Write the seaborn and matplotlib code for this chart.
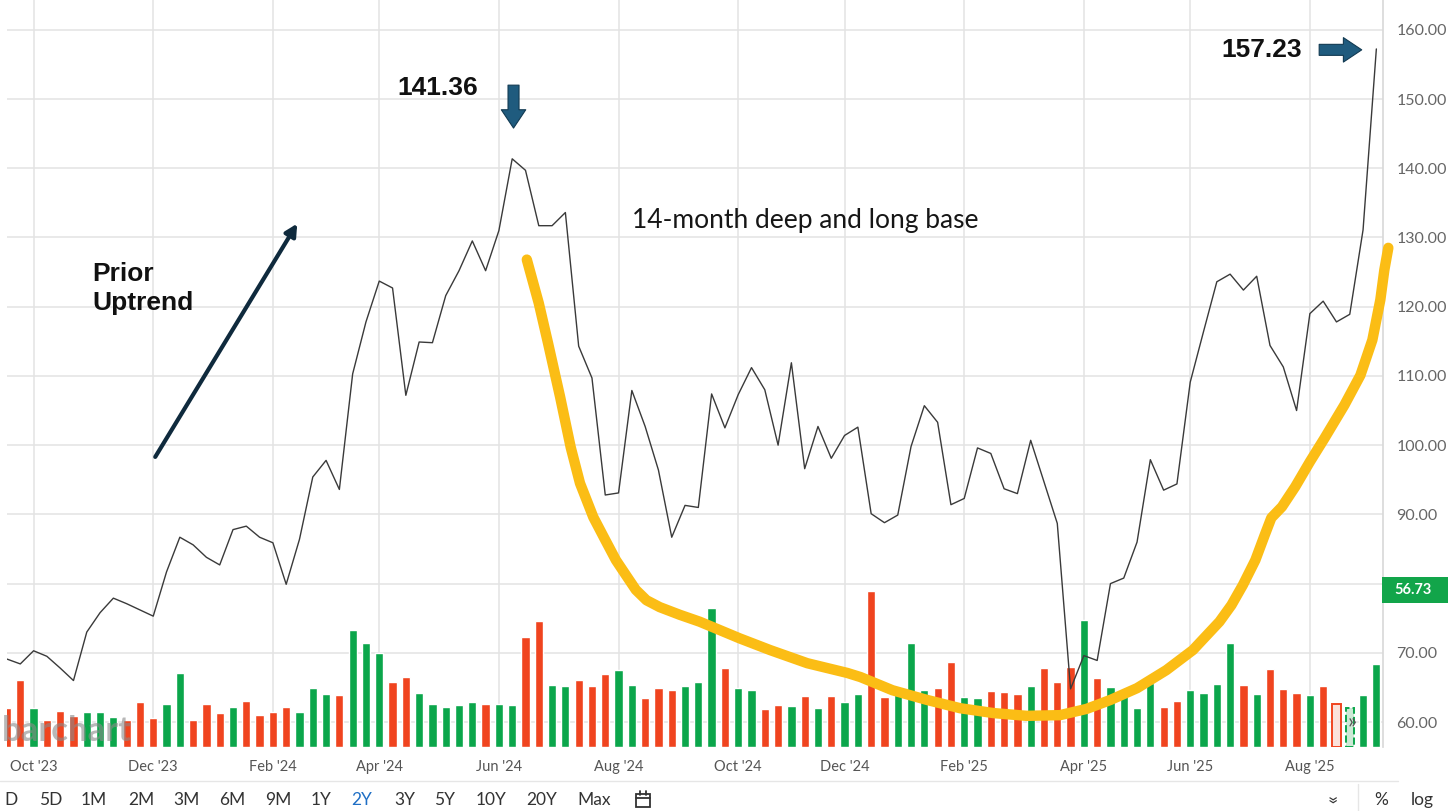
import numpy as np
import pandas as pd
import matplotlib
matplotlib.use("Agg")
import matplotlib.pyplot as plt
from matplotlib.patches import FancyArrowPatch, Rectangle
from matplotlib.lines import Line2D
import seaborn as sns

# weekly bars, Monday dated
weeks = pd.date_range("2023-09-18", periods=104, freq="W-MON")

close = [69.1, 68.4, 70.3, 69.5, 67.8, 66.0, 73.0, 75.8, 77.9, 77.1,
         76.2, 75.3, 81.7, 86.7, 85.6, 83.8, 82.7, 87.8, 88.3, 86.7,
         85.9, 79.9, 86.4, 95.4, 97.8, 93.6, 110.3, 117.8, 123.7, 122.7,
         107.2, 114.9, 114.8, 121.6, 125.2, 129.5, 125.2, 131.0, 141.36, 139.7,
         131.7, 131.7, 133.6, 114.3, 109.7, 92.8, 93.1, 107.9, 102.7, 96.4,
         86.7, 91.3, 91.0, 107.4, 102.5, 107.3, 111.2, 108.0, 100.0, 111.9,
         96.6, 102.7, 98.1, 101.4, 102.6, 90.1, 88.8, 89.9, 99.8, 105.7,
         103.3, 91.4, 92.3, 99.6, 98.8, 93.7, 93.0, 100.7, 94.7, 88.7,
         64.8, 69.6, 68.9, 80.0, 80.8, 86.0, 97.9, 93.5, 94.4, 109.1,
         116.4, 123.6, 124.7, 122.4, 124.4, 114.4, 111.3, 105.0, 119.0, 120.8,
         117.8, 118.9, 131.1, 157.23]

# volume in millions
volume_m = [26.6, 45.8, 26.6, 18.4, 24.6, 21.2, 23.9, 23.9, 20.5, 18.4,
            30.7, 19.8, 29.4, 50.5, 18.4, 29.4, 23.2, 27.3, 31.4, 21.9,
            23.9, 27.3, 23.9, 40.3, 36.2, 35.5, 79.9, 71.0, 64.2, 44.4,
            47.8, 36.9, 29.4, 27.3, 28.7, 30.7, 29.4, 29.4, 28.7, 75.1,
            86.1, 42.3, 41.7, 45.8, 41.7, 49.9, 52.6, 42.3, 33.5, 40.3,
            38.9, 41.7, 44.4, 94.9, 54.0, 40.3, 38.9, 26.0, 28.7, 28.0,
            34.8, 26.6, 34.8, 30.7, 36.2, 106.5, 34.2, 36.2, 71.0, 38.9,
            40.3, 58.1, 34.2, 33.5, 38.2, 37.6, 36.2, 41.7, 54.0, 44.4,
            54.6, 86.7, 47.1, 41.0, 37.6, 26.6, 43.7, 27.3, 31.4, 38.9,
            36.9, 43.0, 71.0, 42.3, 36.2, 53.3, 39.6, 36.9, 35.5, 41.7,
            29.4, 26.6, 35.5, 56.73]

# g = up week, r = down week
direction = ("rrgrrrgggr" "rrggrrrgrr" "rrgggrgggr" "rgggggrggr" "rggrrrggrr"
             "rgggrggrrg" "rgrggrrggg" "rrggrrrgrr" "rgrggggrrg" "gggrgrrrgr" "rggg")

# weeks greyed out under the chart's scroll button
faded_weeks = [100, 101]

# hand-drawn cup outline (week index, price)
cup_week = [39.1, 40.0, 40.7, 41.6, 42.4, 43.1, 44.1, 45.0, 45.8, 46.6,
            47.3, 48.1, 49.1, 50.6, 52.1, 53.6, 55.1, 57.4, 60.2, 63.2,
            64.2, 66.6, 69.2, 71.7, 74.2, 76.7, 79.2, 81.2, 83.0, 85.0,
            87.2, 89.2, 91.2, 92.1, 92.96, 93.9, 94.6, 95.1, 95.9, 96.9,
            98.0, 99.1, 100.6, 101.8, 102.7, 103.3, 103.6, 103.9]
cup_price = [126.8, 120.5, 114.7, 107.0, 99.7, 94.5, 89.6, 86.3, 83.4, 81.1,
             79.1, 77.6, 76.6, 75.5, 74.5, 73.3, 72.1, 70.4, 68.5, 67.1,
             66.5, 64.6, 63.2, 62.0, 61.3, 60.9, 61.0, 61.9, 63.2, 64.9,
             67.5, 70.4, 74.5, 76.9, 79.8, 83.4, 87.0, 89.5, 91.1, 94.0,
             97.6, 101.0, 105.8, 110.1, 115.2, 121.0, 125.3, 128.5]

price_ticks = [60, 70, 80, 90, 100, 110, 120, 130, 140, 150, 160]
toolbar = ["D", "5D", "1M", "2M", "3M", "6M", "9M", "1Y", "2Y", "3Y", "5Y", "10Y", "20Y", "Max"]
toolbar_x = [11, 51, 94, 141, 186, 232, 278, 321, 362, 405, 445, 491, 542, 594]
active_range = "2Y"

GREEN = "#0ba64b"
RED = "#f0441f"
YELLOW = "#fbbd15"
ARROW_BLUE = "#1f5b7e"

sns.set_theme(style="white")
plt.rcParams["font.family"] = ["Lato", "DejaVu Sans"]
BOLD = ["Liberation Sans", "DejaVu Sans"]

df = pd.DataFrame({
    "week": np.arange(len(weeks)),
    "date": weeks,
    "close": close,
    "volume": volume_m,
    "dir": ["up" if c == "g" else "down" for c in direction],
})
df["faded"] = df["week"].isin(faded_weeks)

# first week of every second month gets a grid line
new_month = df["date"].dt.month != df["date"].dt.month.shift()
tick_rows = df[new_month & df["date"].dt.month.isin([10, 12, 2, 4, 6, 8])]
tick_pos = tick_rows["week"].tolist()
tick_lab = [d.strftime("%b '%y") for d in tick_rows["date"]]

W, H = 1448, 811
fig = plt.figure(figsize=(W / 100, H / 100), dpi=100)


def fx(px):
    return px / W


def fy(py):
    return 1 - py / H


rect = [fx(7), fy(747), fx(1383) - fx(7), fy(0) - fy(747)]
xlim = (0, 103.5)
ylim = (56.4, 164.3)

# background axes: grid + labels
ax_bg = fig.add_axes(rect)
ax_bg.set_xlim(*xlim)
ax_bg.set_ylim(*ylim)
ax_bg.set_yticks(price_ticks)
ax_bg.set_yticklabels(["" if p == 80 else f"{p:.2f}" for p in price_ticks])
ax_bg.yaxis.tick_right()
ax_bg.set_xticks(tick_pos)
ax_bg.set_xticklabels(tick_lab)
ax_bg.grid(True, color="#e3e3e3", lw=1.1)
ax_bg.tick_params(axis="x", length=4, color="#e3e3e3", width=1.1, pad=5.5,
                  labelsize=10.5, labelcolor="#555555")
ax_bg.tick_params(axis="y", length=0, pad=9.5, labelsize=11.5, labelcolor="#666666")
for s in ["top", "left", "bottom"]:
    ax_bg.spines[s].set_visible(False)
ax_bg.spines["right"].set_color("#d9d9d9")

# volume bars
ax_vol = fig.add_axes(rect)
ax_vol.set_facecolor("none")
sns.barplot(data=df[~df["faded"]], x="week", y="volume", hue="dir",
            palette={"up": GREEN, "down": RED}, native_scale=True, dodge=False,
            width=0.62, errorbar=None, legend=False, saturation=1, ax=ax_vol)
for _, row in df[df["faded"]].iterrows():
    n0 = len(ax_vol.patches)
    base = GREEN if row["dir"] == "up" else RED
    light = "#cde9d6" if row["dir"] == "up" else "#fbe1da"
    sns.barplot(x=[row["week"]], y=[row["volume"]], native_scale=True,
                color=light, width=0.62, errorbar=None, saturation=1, ax=ax_vol)
    for p in ax_vol.patches[n0:]:
        p.set_edgecolor(base)
        p.set_linewidth(1.4)
        p.set_linestyle("--" if row["dir"] == "up" else "-")
ax_vol.set_xlim(*xlim)
ax_vol.set_ylim(0, 510)
ax_vol.set_axis_off()

# price line, cup and notes
ax_px = fig.add_axes(rect)
ax_px.set_facecolor("none")
sns.lineplot(data=df, x="week", y="close", color="#3a3a3a", lw=1.0, ax=ax_px)
sns.lineplot(x=cup_week, y=cup_price, sort=False, estimator=None, color=YELLOW,
             lw=7.5, solid_capstyle="round", solid_joinstyle="round",
             clip_on=False, ax=ax_px)
ax_px.set_xlim(*xlim)
ax_px.set_ylim(*ylim)
ax_px.set_axis_off()

peak_i = int(np.argmax(close[:80]))
ax_px.text(32.4, 151.6, f"{close[peak_i]:.2f}", ha="center", va="center",
           fontsize=19, fontweight="bold", family=BOLD, color="#111111")
ax_px.add_patch(FancyArrowPatch(
    (peak_i + 0.1, 152.0), (peak_i + 0.1, 145.8),
    arrowstyle="simple,head_length=0.6,head_width=0.8,tail_width=0.36",
    mutation_scale=22, fc=ARROW_BLUE, ec="#123a52", lw=0.8, shrinkA=0, shrinkB=0))

ax_px.text(94.4, 157.1, f"{close[-1]:.2f}", ha="center", va="center",
           fontsize=19, fontweight="bold", family=BOLD, color="#111111")
ax_px.add_patch(FancyArrowPatch(
    (98.7, 157.1), (101.9, 157.1),
    arrowstyle="simple,head_length=0.6,head_width=0.8,tail_width=0.36",
    mutation_scale=22, fc=ARROW_BLUE, ec="#123a52", lw=0.8, shrinkA=0, shrinkB=0))

ax_px.text(6.4, 122.6, "Prior\nUptrend", ha="left", va="center", fontsize=19,
           fontweight="bold", family=BOLD, color="#111111", linespacing=1.25)
ax_px.add_patch(FancyArrowPatch(
    (11.15, 98.3), (21.83, 132.0), arrowstyle="-|>,head_length=0.35,head_width=0.18",
    mutation_scale=20, color="#0f2a3d", lw=3, shrinkA=0, shrinkB=0))

ax_px.text(47.0, 132.5, "14-month deep and long base", ha="left", va="center",
           fontsize=19, color="#161616")

# last volume tag on the price scale
fig.patches.append(Rectangle((fx(1382), fy(603)), fx(70), fy(577) - fy(603),
                             transform=fig.transFigure, fc="#12a54a", ec="none"))
fig.text(fx(1394), fy(590), f"{volume_m[-1]:.2f}", ha="left", va="center",
         fontsize=10.5, fontweight="bold", color="white")

# scroll button over the last bars
fig.text(fx(1352), fy(722), "\u00bb", ha="center", va="center", fontsize=15,
         color="#555555")

# watermark
fig.text(fx(2), fy(741), "barchart", ha="left", va="baseline", fontsize=25,
         fontweight="bold", color="#8a8a8a", alpha=0.6)

# toolbar
fig.add_artist(Line2D([0, fx(1398)], [fy(781), fy(781)], color="#e6e6e6", lw=1,
                      transform=fig.transFigure))
fig.add_artist(Line2D([fx(1358), fx(1358)], [fy(784), 0], color="#e6e6e6", lw=1,
                      transform=fig.transFigure))
for lab, x in zip(toolbar, toolbar_x):
    fig.text(fx(x), fy(800), lab, ha="center", va="center", fontsize=12.5,
             color="#1f6fc5" if lab == active_range else "#333333")
fig.patches.append(Rectangle((fx(636), fy(807)), fx(14), fy(794) - fy(807),
                             transform=fig.transFigure, fc="none", ec="#333333", lw=1.3))
fig.add_artist(Line2D([fx(636), fx(650)], [fy(798), fy(798)], color="#333333", lw=1.3,
                      transform=fig.transFigure))
for px in (640, 646):
    fig.add_artist(Line2D([fx(px), fx(px)], [fy(791), fy(795)], color="#333333", lw=1.3,
                          transform=fig.transFigure))
fig.text(fx(1332), fy(800), "\u00bb", ha="center", va="center", fontsize=14,
         rotation=270, color="#333333")
fig.text(fx(1381), fy(800), "%", ha="center", va="center", fontsize=12.5, color="#333333")
fig.text(fx(1411), fy(800), "log", ha="left", va="center", fontsize=12.5, color="#333333")

fig.savefig("out.png", dpi=100)
